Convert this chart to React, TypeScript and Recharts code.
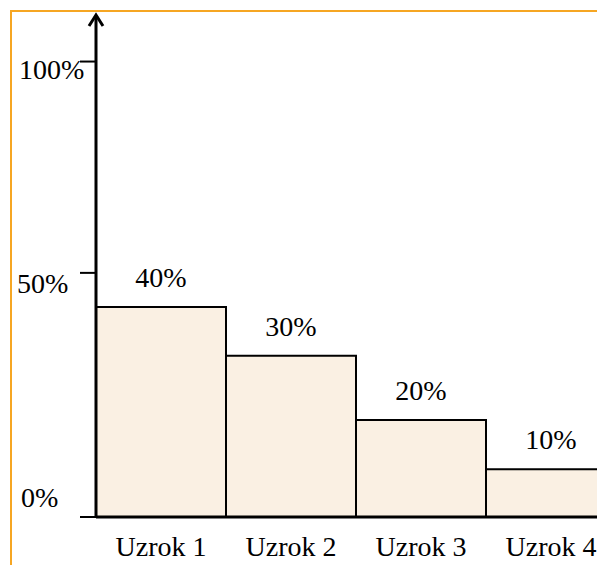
import { BarChart, Bar, XAxis, YAxis, LabelList } from "recharts";

// kategorije i visine stupaca (očitane sa slike, u jedinicama osi gdje je 100% = 100)
const categories = ["Uzrok 1", "Uzrok 2", "Uzrok 3", "Uzrok 4"];
const heights = [46.1, 35.4, 21.3, 10.5];
const barLabels = ["40%", "30%", "20%", "10%"];

// oznake osi Y (položaji kako su nacrtani na slici)
const yTicks = [0, 53.6, 100];
const yTickLabels = ["0%", "50%", "100%"];

const FONT = "'Liberation Serif', 'Times New Roman', serif";
const textStyle = { fontFamily: FONT, fontSize: 28, fill: "#000" };

const data = categories.map((name, i) => ({
  name,
  value: heights[i],
  label: barLabels[i],
}));

// pomak teksta oznaka osi Y (crtež ih nije poravnao s crticama)
const tickShift = [
  { x: 21, dy: -20 },
  { x: 17, dy: 10 },
  { x: 19, dy: 8 },
];

const YTick = (props: any) => {
  const { y, index } = props;
  const s = tickShift[index] || { x: 20, dy: 0 };
  return (
    <text
      x={s.x}
      y={y + s.dy}
      dy="0.35em"
      textAnchor="start"
      style={textStyle}
    >
      {yTickLabels[index]}
    </text>
  );
};

export default function App() {
  return (
    <div
      style={{
        position: "absolute",
        left: 0,
        top: 0,
        width: 597,
        height: 565,
        overflow: "hidden",
        background: "#fff",
      }}
    >
      <div
        style={{
          position: "absolute",
          left: 10,
          top: 10,
          width: 620,
          height: 600,
          borderLeft: "2px solid #F6A623",
          borderTop: "2px solid #F6A623",
        }}
      />
      <BarChart
        width={620}
        height={565}
        data={data}
        margin={{ top: 16, right: 4, bottom: 0, left: 0 }}
        barCategoryGap={0}
        style={{ position: "absolute", left: 0, top: 0 }}
      >
        <defs>
          <marker
            id="arrowUp"
            markerUnits="userSpaceOnUse"
            markerWidth={20}
            markerHeight={20}
            viewBox="0 0 20 20"
            refX={10}
            refY={3}
            orient="0"
            overflow="visible"
          >
            <path
              d="M3,13 L10,2 L17,13"
              fill="none"
              stroke="#000"
              strokeWidth={3}
            />
          </marker>
        </defs>
        <XAxis
          dataKey="name"
          height={48}
          axisLine={{ stroke: "#000", strokeWidth: 3 }}
          tickLine={false}
          tickSize={0}
          tickMargin={19}
          interval={0}
          tick={{ fill: "#000", fontSize: 28, fontFamily: FONT }}
        />
        <YAxis
          width={96}
          domain={[0, 110]}
          ticks={yTicks}
          interval={0}
          allowDataOverflow
          axisLine={{
            stroke: "#000",
            strokeWidth: 3,
            markerStart: "url(#arrowUp)",
          }}
          tickLine={{ stroke: "#000", strokeWidth: 2 }}
          tickSize={16}
          tick={<YTick />}
        />
        <Bar
          dataKey="value"
          fill="#FAF0E3"
          stroke="#000"
          strokeWidth={2}
          isAnimationActive={false}
        >
          <LabelList
            dataKey="label"
            position="top"
            offset={20}
            style={textStyle}
          />
        </Bar>
      </BarChart>
    </div>
  );
}
